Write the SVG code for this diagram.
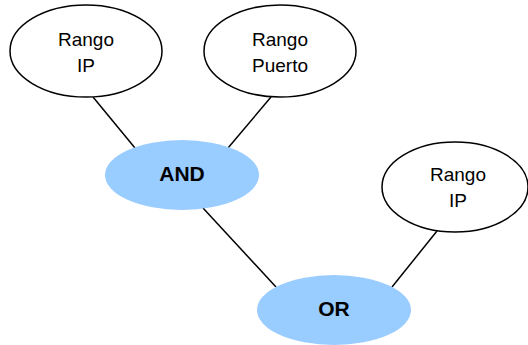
<svg xmlns="http://www.w3.org/2000/svg" width="528" height="345" viewBox="0 0 528 345">
<style>
.leaf{fill:#fff;stroke:#000;stroke-width:1.5}
.op{fill:#99ccff;stroke:none}
.t{font-family:"Liberation Sans",Arial,sans-serif;font-size:19px;text-anchor:middle;fill:#000}
.b{font-weight:bold;font-size:21px}
.edge{stroke:#000;stroke-width:1.5;fill:none}
</style>
<g id="edges">
<line class="edge" x1="93" y1="97" x2="135" y2="148"/>
<line class="edge" x1="271" y1="97" x2="228" y2="148"/>
<line class="edge" x1="203" y1="208" x2="276" y2="287"/>
<line class="edge" x1="437" y1="231" x2="392" y2="287"/>
</g>
<g id="n1">
<ellipse class="leaf" cx="86" cy="51" rx="76" ry="46"/>
<text class="t" x="86" y="46">Rango</text>
<text class="t" x="86" y="72">IP</text>
</g>
<g id="n2">
<ellipse class="leaf" cx="280" cy="51" rx="76" ry="46"/>
<text class="t" x="280" y="46">Rango</text>
<text class="t" x="280" y="72">Puerto</text>
</g>
<g id="n3">
<ellipse class="op" cx="182" cy="175" rx="77" ry="35"/>
<text class="t b" x="182" y="181">AND</text>
</g>
<g id="n4">
<ellipse class="leaf" cx="455" cy="187" rx="73" ry="45"/>
<text class="t" x="458" y="181">Rango</text>
<text class="t" x="458" y="207">IP</text>
</g>
<g id="n5">
<ellipse class="op" cx="334" cy="310" rx="77" ry="35"/>
<text class="t b" x="334" y="316">OR</text>
</g>
</svg>
